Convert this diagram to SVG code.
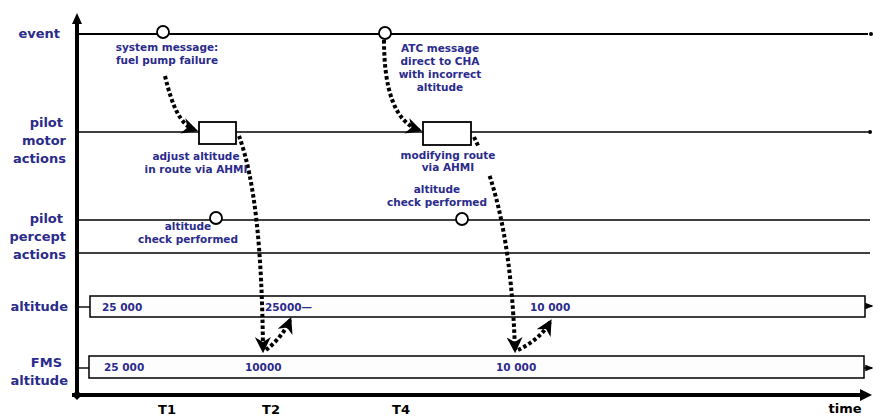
<svg xmlns="http://www.w3.org/2000/svg" width="873" height="417" viewBox="0 0 873 417">
<style>
.ln{stroke:#000;stroke-width:2.2;fill:none}
.thin{stroke:#000;stroke-width:1.4;fill:none}
.ax{stroke:#000;stroke-width:4;fill:none}
.lbl{font-family:"DejaVu Sans",sans-serif;font-weight:bold;font-size:13px;fill:#2b2b8c;text-anchor:end}
.ann{font-family:"DejaVu Sans",sans-serif;font-weight:bold;font-size:10.5px;fill:#2b2b8c;text-anchor:middle}
.val{font-family:"DejaVu Sans",sans-serif;font-weight:bold;font-size:10.5px;fill:#2b2b8c}
.tk{font-family:"DejaVu Sans",sans-serif;font-weight:bold;font-size:13px;fill:#000;text-anchor:middle}
.dot{stroke:#000;stroke-width:4;stroke-dasharray:3.5 2.5;fill:none}
.circ{fill:#fff;stroke:#000;stroke-width:1.8}
.box{fill:#fff;stroke:#000;stroke-width:1.8}
.bar{fill:#fdfdfd;stroke:#000;stroke-width:1.5}
</style>
<defs>
<marker id="ah" viewBox="0 0 10 10" refX="8" refY="5" markerWidth="4" markerHeight="4" orient="auto" markerUnits="strokeWidth">
<path d="M0,0 L10,5 L0,10 L3,5 z" fill="#000"/>
</marker>
<marker id="sm" viewBox="0 0 10 10" refX="8" refY="5" markerWidth="6" markerHeight="6" orient="auto">
<path d="M0,1 L10,5 L0,9 z" fill="#000"/>
</marker>
</defs>
<g id="axes">
<line class="ax" x1="77" y1="395" x2="77" y2="22"/>
<path d="M77,13 L72,24 L82,24 z" fill="#000"/>
<line class="ax" x1="72" y1="395" x2="862" y2="395"/>
<path d="M872,395 L860,389 L860,401 z" fill="#000"/>
<path d="M72,395 L77,390 L82,395 L77,400 z" fill="#000"/>
</g>
<g id="row-labels">
<text class="lbl" x="60" y="38">event</text>
<text class="lbl" x="63" y="127">pilot</text>
<text class="lbl" x="66" y="145">motor</text>
<text class="lbl" x="66" y="163">actions</text>
<text class="lbl" x="63" y="223">pilot</text>
<text class="lbl" x="66" y="241">percept</text>
<text class="lbl" x="66" y="259">actions</text>
<text class="lbl" x="68" y="311">altitude</text>
<text class="lbl" x="62" y="367">FMS</text>
<text class="lbl" x="68" y="385">altitude</text>
</g>
<g id="lines">
<line class="ln" x1="77" y1="34" x2="868" y2="34"/>
<circle cx="871" cy="34" r="2" fill="#000"/>
<line class="thin" x1="77" y1="132" x2="868" y2="132"/>
<circle cx="870" cy="132" r="2" fill="#000"/>
<line class="thin" x1="77" y1="220" x2="870" y2="220"/>
<line class="thin" x1="77" y1="253" x2="870" y2="253"/>
<circle cx="77" cy="34" r="2.2" fill="#000"/>
<circle cx="77" cy="132" r="2.2" fill="#000"/>
<circle cx="77" cy="220" r="2.2" fill="#000"/>
<circle cx="77" cy="253" r="2.2" fill="#000"/>
</g>
<g id="altitude-bar">
<line class="thin" x1="77" y1="307" x2="90" y2="307"/>
<circle cx="77" cy="307" r="2.2" fill="#000"/>
<rect class="bar" x="90" y="296" width="775" height="21"/>
<line class="thin" x1="865" y1="306" x2="872" y2="306" marker-end="url(#sm)"/>
<text class="val" x="102" y="311">25 000</text>
<text class="val" x="265" y="311">25000—</text>
<text class="val" x="530" y="311">10 000</text>
</g>
<g id="fms-bar">
<line class="thin" x1="77" y1="368" x2="89" y2="368"/>
<circle cx="77" cy="368" r="2.2" fill="#000"/>
<rect class="bar" x="89" y="356" width="775" height="22"/>
<line class="thin" x1="864" y1="368" x2="872" y2="368" marker-end="url(#sm)"/>
<text class="val" x="104" y="371">25 000</text>
<text class="val" x="245" y="371">10000</text>
<text class="val" x="496" y="371">10 000</text>
</g>
<g id="connectors">
<path class="dot" d="M165,76 C172,105 180,125 195,130" marker-end="url(#ah)"/>
<path class="dot" d="M239,136 C255,180 262,250 263,350" marker-end="url(#ah)"/>
<path class="dot" d="M266,350 C276,342 285,332 290,320" marker-end="url(#ah)"/>
<path class="dot" d="M384,40 C384,90 395,122 419,130" marker-end="url(#ah)"/>
<path class="dot" d="M474,137 C500,190 512,260 515,350" marker-end="url(#ah)"/>
<path class="dot" d="M518,350 C530,344 542,336 550,322" marker-end="url(#ah)"/>
</g>
<g id="event1">
<circle class="circ" cx="163" cy="32" r="6"/>
<text class="ann" x="167" y="51">system message:</text>
<text class="ann" x="167" y="64">fuel pump failure</text>
</g>
<g id="event2">
<circle class="circ" cx="385" cy="33" r="6"/>
<text class="ann" x="440" y="52">ATC message</text>
<text class="ann" x="440" y="65">direct to CHA</text>
<text class="ann" x="440" y="78">with incorrect</text>
<text class="ann" x="440" y="91">altitude</text>
</g>
<g id="action1">
<rect class="box" x="199" y="122" width="37" height="22"/>
<text class="ann" x="196" y="160">adjust altitude</text>
<text class="ann" x="196" y="173">in route  via AHMI</text>
</g>
<g id="action2">
<rect class="box" x="423" y="122" width="48" height="23"/>
<rect x="396" y="147" width="108" height="28" fill="#fff"/>
<text class="ann" x="448" y="159">modifying route</text>
<text class="ann" x="448" y="171">via AHMI</text>
</g>
<g id="percept1">
<circle class="circ" cx="216" cy="218" r="6"/>
<text class="ann" x="188" y="230">altitude</text>
<text class="ann" x="188" y="243">check performed</text>
</g>
<g id="percept2">
<circle class="circ" cx="462" cy="219" r="6"/>
<text class="ann" x="437" y="193">altitude</text>
<text class="ann" x="437" y="206">check  performed</text>
</g>
<g id="ticks">
<text class="tk" x="167" y="414">T1</text>
<text class="tk" x="271" y="414">T2</text>
<text class="tk" x="401" y="414">T4</text>
<text class="tk" x="845" y="413">time</text>
</g>
</svg>
